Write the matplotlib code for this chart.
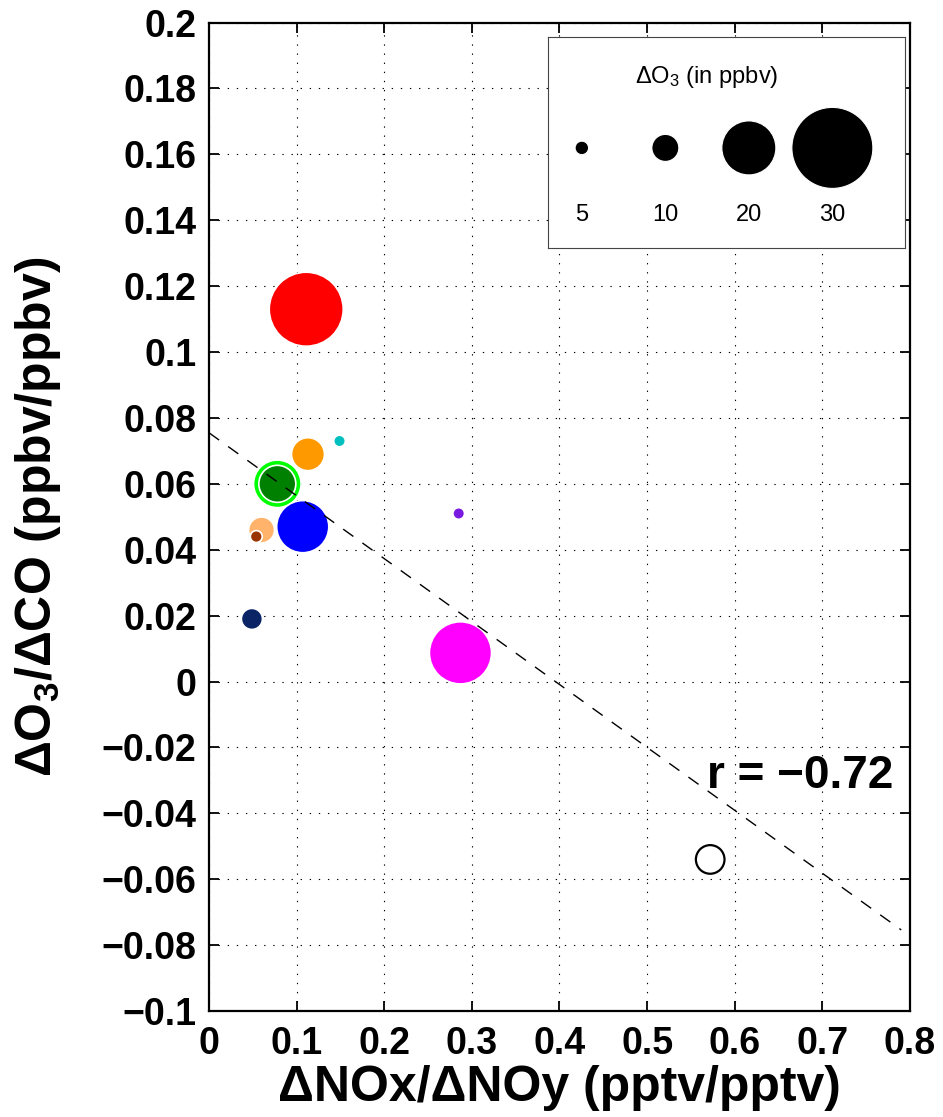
import matplotlib
matplotlib.use("Agg")
import matplotlib.pyplot as plt
import numpy as np

# plume values (x, y and ozone change in ppbv)
nox_noy = [0.111, 0.113, 0.149, 0.078, 0.078, 0.060, 0.054, 0.107, 0.285, 0.049, 0.287, 0.572]
o3_co = [0.113, 0.069, 0.073, 0.060, 0.060, 0.046, 0.044, 0.047, 0.051, 0.019, 0.0087, -0.054]
d_o3 = [27.4, 12.2, 4.3, 17.6, 13.7, 9.6, 4.4, 19.3, 4.3, 7.8, 23.0, 10.6]
face_colors = ['#ff0000', '#ff9900', '#00bfbf', '#00ff00', '#008000', '#ffb36b',
               '#993300', '#0000ff', '#7a1ae0', '#0b2466', '#ff00ff', 'white']
edge_colors = ['white'] * 11 + ['black']

# regression line
fit_slope = -0.191
fit_intercept = 0.0755
fit_x = [0.0, 0.79]
r_value = -0.72

# legend bubbles
legend_values = [5, 10, 20, 30]

xticks = np.arange(0, 0.81, 0.1)
yticks = np.arange(-0.1, 0.201, 0.02)

plt.rcParams['font.family'] = ['Liberation Sans', 'DejaVu Sans']
plt.rcParams['font.weight'] = 'bold'


def bubble_size(v):
    # marker area in pt^2, diameter grows linearly with the ozone change
    return (1.944 * np.asarray(v, dtype=float)) ** 2


def tick_text(t):
    if abs(t) < 1e-9:
        return '0'
    return ('%g' % round(t, 2)).replace('-', '\u2212')


fig = plt.figure(figsize=(9.43, 11.17), dpi=100)
ax = fig.add_axes([0.2216, 0.0949, 0.7434, 0.8849])

ax.set_xlim(0, 0.8)
ax.set_ylim(-0.1, 0.2)
ax.set_xticks(xticks)
ax.set_yticks(yticks)
ax.set_xticklabels([tick_text(t) for t in xticks])
ax.set_yticklabels([tick_text(t) for t in yticks])
ax.tick_params(direction='in', length=7, width=1.3, top=True, right=True,
               labelsize=27)
ax.tick_params(axis='x', pad=11)
ax.tick_params(axis='y', pad=9)
for s in ax.spines.values():
    s.set_linewidth(1.6)
ax.grid(True, color='black', linestyle=(0, (1.2, 7)), linewidth=0.8)
ax.set_axisbelow(True)

ax.scatter(nox_noy, o3_co, s=bubble_size(d_o3), c=face_colors,
           edgecolors=edge_colors,
           linewidths=[1.2] * 11 + [1.6], zorder=3)

fx = np.array(fit_x)
ax.plot(fx, fit_intercept + fit_slope * fx, color='black', lw=1,
        dashes=(9, 8), zorder=4)

ax.text(0.675, -0.0287, 'r = \u2212%.2f' % abs(r_value), fontsize=33,
        fontweight='bold', ha='center', va='center', zorder=5)

ax.set_xlabel('\u0394NOx/\u0394NOy (pptv/pptv)', fontsize=36,
              fontweight='bold', labelpad=2)
ax.set_ylabel('\u0394O$\\mathregular{_3}$/\u0394CO (ppbv/ppbv)', fontsize=36,
              fontweight='bold')
ax.yaxis.set_label_coords(-0.208, 0.5)

# size legend box
lax = fig.add_axes([0.581, 0.778, 0.379, 0.189])
lax.set_xlim(0, 1)
lax.set_ylim(0, 1)
lax.set_xticks([])
lax.set_yticks([])
for s in lax.spines.values():
    s.set_linewidth(0.8)
    s.set_color('#444444')
lx = np.linspace(0.095, 0.796, len(legend_values))
lax.scatter(lx, [0.474] * len(legend_values), s=bubble_size(legend_values),
            c='black', edgecolors='white', linewidths=0.8)
for x, v in zip(lx, legend_values):
    lax.text(x, 0.156, str(v), fontsize=17, fontweight='normal',
             ha='center', va='center')
lax.text(0.445, 0.81, '\u0394O$\\mathregular{_3}$ (in ppbv)', fontsize=17,
         fontweight='normal', ha='center', va='center')

fig.savefig('out.png', dpi=100)
